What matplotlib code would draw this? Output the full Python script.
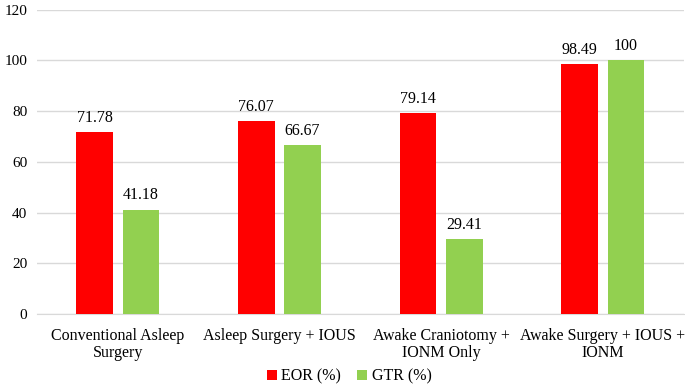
import matplotlib
matplotlib.use('Agg')
import matplotlib.pyplot as plt
import numpy as np

categories = ["Conventional Asleep\nSurgery", "Asleep Surgery + IOUS",
              "Awake Craniotomy +\nIONM Only", "Awake Surgery + IOUS +\nIONM"]
eor = [71.78, 76.07, 79.14, 98.49]
gtr = [41.18, 66.67, 29.41, 100]
eor_labels = ["71.78", "76.07", "79.14", "98.49"]
gtr_labels = ["41.18", "66.67", "29.41", "100"]

plt.rcParams['font.family'] = ['Liberation Serif', 'DejaVu Serif']
fs = 11.5

fig = plt.figure(figsize=(6.85, 3.89), dpi=100)
ax = fig.add_axes([0.054, 0.193, 0.944, 0.782])

x = np.arange(len(categories))
w = 0.227
off = 0.143
b1 = ax.bar(x - off, eor, w, color='#FF0000', label='EOR (%)', zorder=3)
b2 = ax.bar(x + off, gtr, w, color='#92D050', label='GTR (%)', zorder=3)

for bar, lab in zip(b1, eor_labels):
    ax.text(bar.get_x() + bar.get_width() / 2, bar.get_height() + 2.5, lab,
            ha='center', va='bottom', fontsize=fs)
for bar, lab in zip(b2, gtr_labels):
    ax.text(bar.get_x() + bar.get_width() / 2, bar.get_height() + 2.5, lab,
            ha='center', va='bottom', fontsize=fs)

ax.set_xlim(-0.5, 3.5)
ax.set_ylim(0, 120)
ax.set_yticks(range(0, 121, 20))
ax.yaxis.grid(True, color='#d9d9d9', linewidth=1, zorder=0)
ax.set_xticks(x)
ax.set_xticklabels(categories, fontsize=fs, linespacing=1.1)
ax.tick_params(axis='y', labelsize=11, length=0, pad=7)
ax.tick_params(axis='x', length=0, pad=10)
for s in ['top', 'right', 'left']:
    ax.spines[s].set_visible(False)
ax.spines['bottom'].set_color('#d9d9d9')

fig.legend(loc='lower center', bbox_to_anchor=(0.51, -0.025), ncol=2, frameon=False,
           fontsize=fs, handlelength=0.6, handleheight=0.6, handletextpad=0.3,
           columnspacing=1.0)

fig.savefig('out.png', dpi=100)
